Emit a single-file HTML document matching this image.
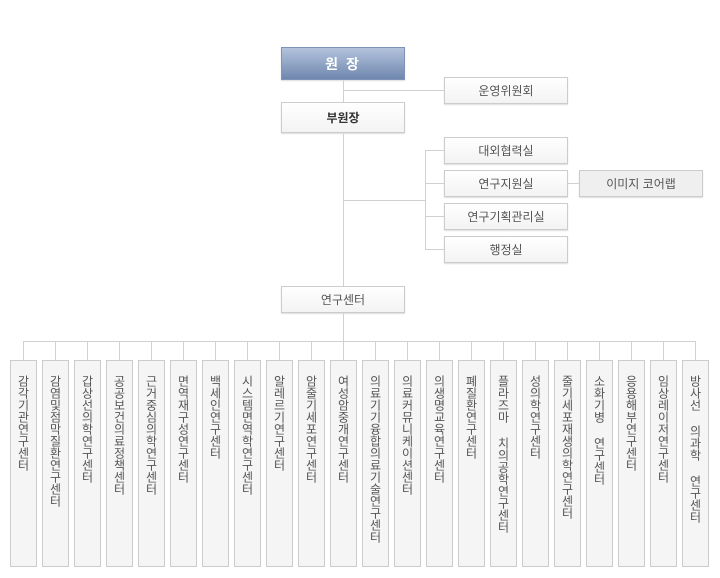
<!DOCTYPE html>
<html><head><meta charset="utf-8"><style>
body{margin:0;width:720px;height:578px;background:#fff;position:relative;font-family:"Liberation Sans","Noto Sans CJK KR",sans-serif;overflow:hidden}
.b{position:absolute;box-sizing:border-box;border:1px solid #ccc;background:linear-gradient(#fff,#f3f3f3);box-shadow:0 1px 1px #ddd;display:flex;align-items:center;justify-content:center;font-size:12px;color:#555}
.l{position:absolute;background:#d0d0d0}
.v{position:absolute;top:360px;width:27px;height:207px;box-sizing:border-box;border:1px solid #ccc;background:#f5f5f5;writing-mode:vertical-rl;text-orientation:upright;font-size:12px;color:#555;padding-top:14px;line-height:27px;letter-spacing:0;white-space:pre}
</style></head><body>
<div class="l" style="left:343px;top:79px;width:1px;height:262px"></div>
<div class="l" style="left:343px;top:90px;width:101px;height:1px"></div>
<div class="l" style="left:343px;top:200px;width:82px;height:1px"></div>
<div class="l" style="left:425px;top:150px;width:1px;height:100px"></div>
<div class="l" style="left:425px;top:150px;width:19px;height:1px"></div>
<div class="l" style="left:425px;top:183px;width:19px;height:1px"></div>
<div class="l" style="left:425px;top:216px;width:19px;height:1px"></div>
<div class="l" style="left:425px;top:249px;width:19px;height:1px"></div>
<div class="l" style="left:567px;top:183px;width:12px;height:1px"></div>
<div class="l" style="left:23px;top:341px;width:673px;height:1px"></div>

<div class="b" style="left:281px;top:47px;width:124px;height:33px;background:linear-gradient(#b3c3dc,#6f87ae);border-color:#7f93b6;color:#fff;font-weight:bold;font-size:14px;letter-spacing:2px">원 장</div>
<div class="b" style="left:444px;top:77px;width:124px;height:27px">운영위원회</div>
<div class="b" style="left:281px;top:102px;width:124px;height:31px;font-weight:bold;color:#333">부원장</div>
<div class="b" style="left:444px;top:137px;width:124px;height:27px">대외협력실</div>
<div class="b" style="left:444px;top:170px;width:124px;height:27px">연구지원실</div>
<div class="b" style="left:579px;top:170px;width:124px;height:27px;background:#efefef">이미지 코어랩</div>
<div class="b" style="left:444px;top:203px;width:124px;height:27px">연구기획관리실</div>
<div class="b" style="left:444px;top:236px;width:124px;height:27px">행정실</div>
<div class="b" style="left:281px;top:286px;width:124px;height:27px">연구센터</div>

<div id="c"></div>
<script>
var n=["감각기관연구센터","감염및점막질환연구센터","갑상선의학연구센터","공공보건의료정책센터","근거중심의학연구센터","면역재구성연구센터","백세인연구센터","시스템면역학연구센터","알레르기연구센터","암줄기세포연구센터","여성암중개연구센터","의료기기융합의료기술연구센터","의료커뮤니케이션센터","의생명교육연구센터","폐질환연구센터","플라즈마 치의공학연구센터","성의학연구센터","줄기세포재생의학연구센터","소화기병 연구센터","응용해부연구센터","임상레이저연구센터","방사선 의과학 연구센터"];
var h="";
for(var i=0;i<22;i++){var x=10+32*i;h+='<div class="l" style="left:'+(x+13)+'px;top:341px;width:1px;height:19px"></div><div class="v" style="left:'+x+'px">'+n[i]+'</div>';}
document.getElementById("c").innerHTML=h;
</script>
</body></html>
